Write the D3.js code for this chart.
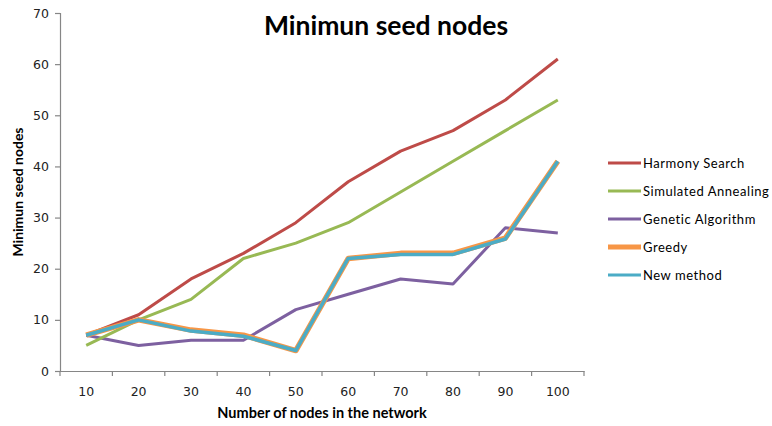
<!DOCTYPE html>
<html>
<head>
<meta charset="utf-8">
<script src="https://cdn.jsdelivr.net/npm/d3@7"></script>
<style>
  body { margin: 0; background: #fff; }
</style>
</head>
<body>
<div id="canvas"></div>
<script>
"use strict"

/* Data */
let categories = [10, 20, 30, 40, 50, 60, 70, 80, 90, 100];
let harmonySearch = [7, 11, 18, 23, 29, 37, 43, 47, 53, 61];
let simulatedAnnealing = [5, 10, 14, 22, 25, 29, 35, 41, 47, 53];
let geneticAlgorithm = [7, 5, 6, 6, 12, 15, 18, 17, 28, 27];
let greedy = [7, 10, 8, 7, 4, 22, 23, 23, 26, 41];
let newMethod = [7, 10, 7.8, 6.8, 4, 22, 22.8, 22.8, 25.8, 41];
let seriesNames = ["Harmony Search", "Simulated Annealing", "Genetic Algorithm", "Greedy", "New method"];
let yTicks = [0, 10, 20, 30, 40, 50, 60, 70];

/* drawing config */
let svgWidth = 772;
let svgHeight = 426;
let plot = { left: 60, right: 584, top: 13, bottom: 371 };

let svg = d3.select("#canvas")
    .append("svg")
    .attr("width", svgWidth)
    .attr("height", svgHeight);

let xScale = d3.scaleBand()
    .domain(categories)
    .range([plot.left, plot.right]);

let yScale = d3.scaleLinear()
    .domain([0, 70])
    .range([plot.bottom, plot.top]);

/* y axis */
let yAxis = svg.append("g")
    .attr("transform", "translate(" + plot.left + ",0)")
    .call(d3.axisLeft(yScale).tickValues(yTicks).tickSize(5).tickPadding(6));

/* x axis: ticks on category boundaries */
let xAxis = svg.append("g")
    .attr("transform", "translate(0," + plot.bottom + ")")
    .call(d3.axisBottom(xScale).tickSize(0).tickPadding(16));

xAxis.selectAll(".bound")
    .data(categories.concat([null]))
    .join("line")
    .attr("class", "bound")
    .attr("x1", (d, i) => plot.left + i * xScale.step())
    .attr("x2", (d, i) => plot.left + i * xScale.step())
    .attr("y1", 0)
    .attr("y2", 5);

svg.selectAll(".domain, .tick line, .bound")
    .attr("stroke", "#868686")
    .attr("stroke-width", 1.2);

svg.selectAll(".tick text")
    .attr("font-family", "DejaVu Sans, sans-serif")
    .attr("font-size", 12.5)
    .attr("fill", "#222");

/* lines */
let line = d3.line()
    .x((d, i) => xScale(categories[i]) + xScale.bandwidth() / 2)
    .y(d => yScale(d));

let seriesData = [harmonySearch, simulatedAnnealing, geneticAlgorithm, greedy, newMethod];
let colors = ["#BE4B48", "#98B954", "#7D60A0", "#F79646", "#4BACC6"];
let widths = [3, 3, 3, 5.5, 3.5];

/* draw order: greedy under new method */
let order = [2, 1, 0, 3, 4];
order.forEach(function (k) {
    svg.append("path")
        .datum(seriesData[k])
        .attr("fill", "none")
        .attr("stroke", colors[k])
        .attr("stroke-width", widths[k])
        .attr("stroke-linejoin", "round")
        .attr("d", line);
});

/* title */
svg.append("text")
    .attr("x", 386)
    .attr("y", 35)
    .attr("text-anchor", "middle")
    .attr("font-family", "Lato, sans-serif")
    .attr("font-weight", "bold")
    .attr("font-size", 26.5)
    .text("Minimun seed nodes");

/* axis titles */
svg.append("text")
    .attr("x", (plot.left + plot.right) / 2)
    .attr("y", 418)
    .attr("text-anchor", "middle")
    .attr("font-family", "Lato, sans-serif")
    .attr("font-weight", "bold")
    .attr("font-size", 14.5)
    .text("Number of nodes in the network");

svg.append("text")
    .attr("transform", "translate(23," + (plot.top + plot.bottom) / 2 + ") rotate(-90)")
    .attr("text-anchor", "middle")
    .attr("font-family", "Lato, sans-serif")
    .attr("font-weight", "bold")
    .attr("font-size", 14)
    .text("Minimun seed nodes");

/* legend */
for (let i = 0; i < seriesNames.length; i++) {
    let y = 163 + i * 28;
    svg.append("line")
        .attr("x1", 608)
        .attr("x2", 641)
        .attr("y1", y)
        .attr("y2", y)
        .attr("stroke", colors[i])
        .attr("stroke-width", i == 3 ? 5 : 3);

    svg.append("text")
        .attr("x", 643)
        .attr("y", y + 5)
        .attr("font-family", "Lato, sans-serif")
        .attr("font-size", 13)
        .attr("letter-spacing", 0.55)
        .text(seriesNames[i]);
};
</script>
</body>
</html>
